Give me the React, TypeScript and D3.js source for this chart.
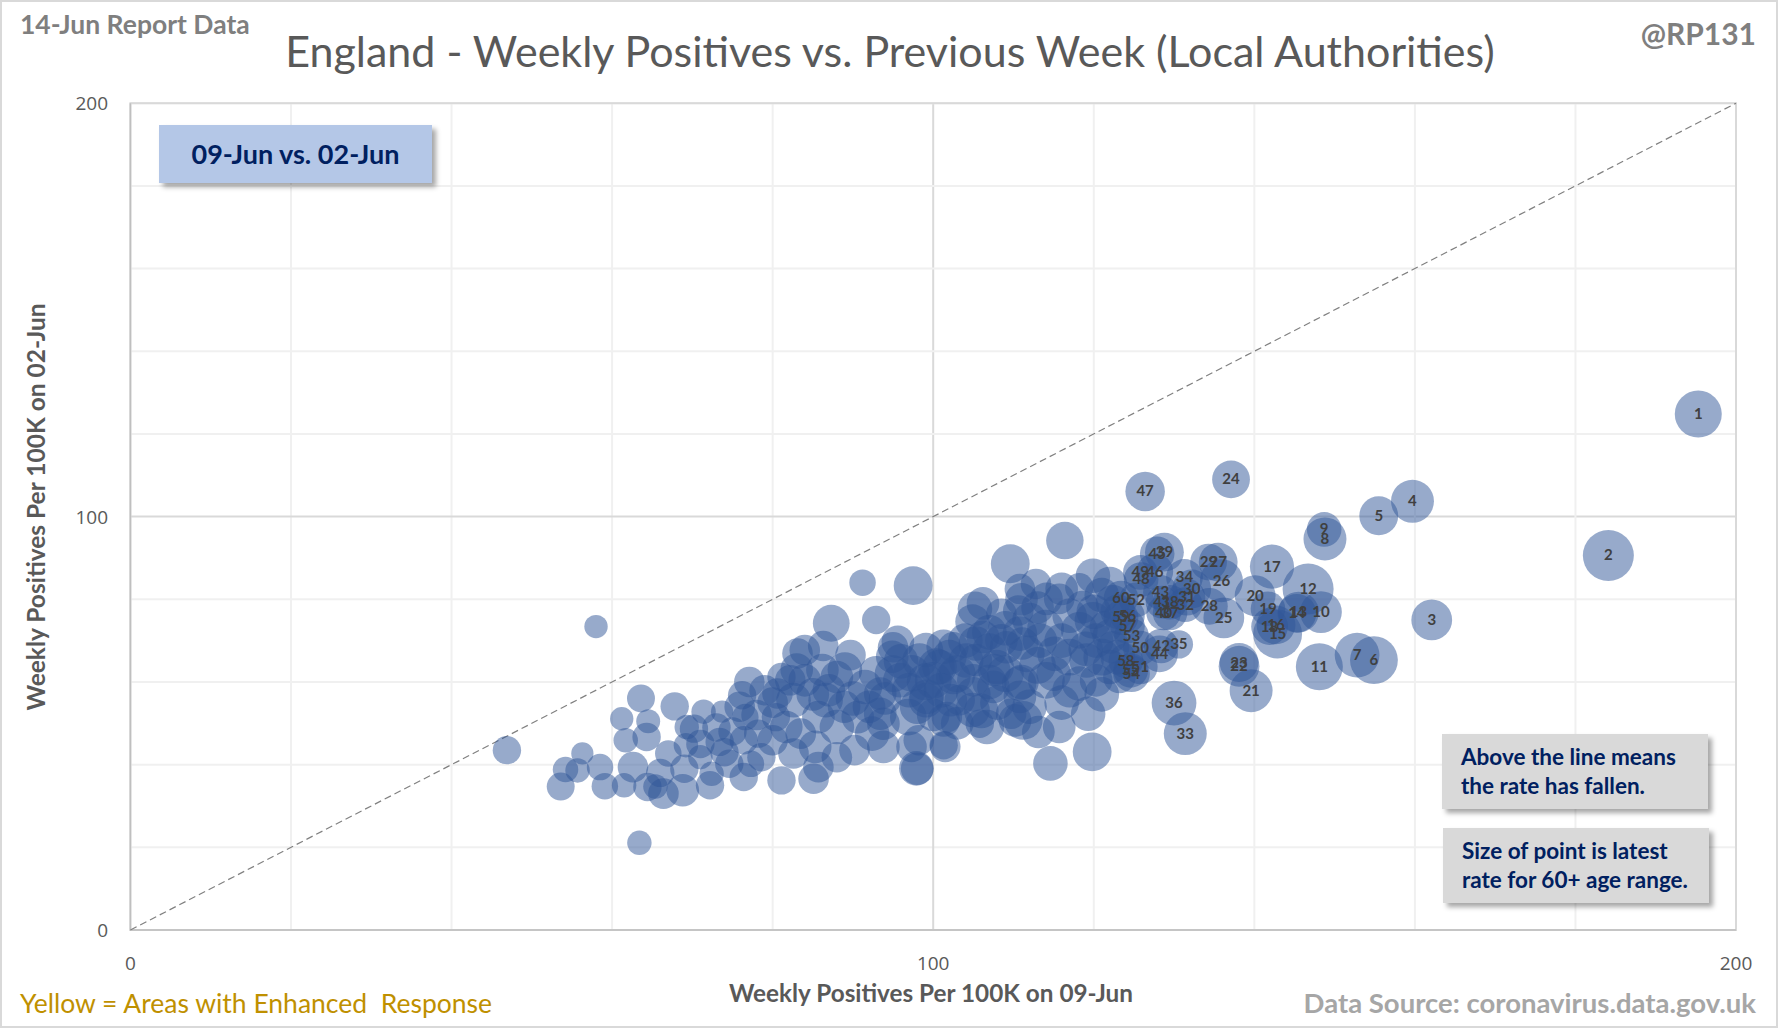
import { useEffect, useRef } from "react";
import * as d3 from "d3";

// top 60 local authorities (labelled by rank on the chart)
const rankedX = [195.3, 184.1, 162.1, 159.7, 155.5, 154.9, 152.8, 148.8, 148.7, 148.3, 148.1, 146.7, 145.5, 145.3, 142.9, 142.7, 142.2, 141.9, 141.7, 140.1, 139.6, 138.1, 138.1, 137.1, 136.2, 135.9, 135.5, 134.4, 134.3, 132.2, 131.6, 131.4, 131.4, 131.3, 130.6, 130.0, 129.5, 129.5, 128.8, 128.7, 128.5, 128.4, 128.3, 128.2, 127.9, 127.6, 126.4, 125.9, 125.8, 125.8, 125.8, 125.3, 124.7, 124.7, 124.6, 124.2, 124.2, 124.0, 123.4, 123.4];
const rankedY = [124.8, 90.6, 75.0, 103.7, 100.2, 65.3, 66.5, 94.6, 96.9, 76.9, 63.7, 82.5, 76.9, 76.6, 71.6, 73.8, 87.9, 73.4, 77.7, 80.9, 57.9, 63.8, 64.7, 109.0, 75.5, 84.5, 89.0, 78.3, 89.0, 82.5, 80.5, 78.7, 47.5, 85.3, 69.1, 54.9, 76.7, 79.3, 91.4, 76.7, 79.3, 68.7, 81.7, 66.8, 91.0, 86.7, 106.1, 84.8, 86.5, 68.2, 63.6, 79.9, 71.2, 62.0, 62.8, 76.0, 73.5, 65.1, 75.6, 80.3];
const rankedSize = [85, 100, 64, 71, 58, 88, 77, 71, 46, 67, 85, 100, 64, 58, 92, 58, 75, 52, 46, 64, 71, 64, 58, 55, 64, 71, 58, 52, 52, 58, 52, 46, 71, 52, 31, 77, 46, 46, 58, 46, 41, 46, 46, 52, 46, 52, 60, 46, 46, 46, 46, 46, 46, 52, 46, 46, 46, 46, 46, 46];

// remaining local authorities (unlabelled)
const otherX = [58.0, 91.2, 97.5, 87.3, 92.9, 46.9, 63.4, 63.6, 67.8, 61.2, 64.5, 61.7, 64.3, 56.3, 54.2, 53.6, 58.5, 55.7, 59.1, 61.5, 62.6, 64.4, 65.4, 66.4, 68.8, 67.0, 69.2, 69.3, 71.4, 70.2, 71.0, 72.2, 72.4, 73.4, 73.7, 75.9, 76.2, 77.1, 76.6, 76.4, 76.4, 77.3, 78.6, 81.1, 81.1, 85.1, 84.0, 86.3, 89.7, 95.6, 98.0, 101.3, 98.2, 104.9, 106.2, 109.6,
  83.1, 94.9, 99.1, 101.3, 100.4, 97.3, 92.9, 91.5, 88.0, 86.2, 84.0, 82.2, 82.6, 86.6, 88.9, 90.6, 92.4, 93.8, 96.9, 99.1, 102.2, 104.9, 106.7, 110.2, 110.7, 107.6, 105.3, 105.3, 108.5, 111.1, 80.0, 81.7, 80.4, 83.5, 85.3, 88.0, 90.2, 93.8, 88.0, 85.7, 78.2, 74.6, 80.6, 82.6, 85.7, 97.3, 101.3,
  116.4, 119.9, 112.8, 110.8, 116.0, 105.2, 108.5, 110.6, 114.1, 115.7, 118.2, 118.6, 119.9, 122.0, 122.4, 121.5, 118.2, 120.3, 122.4, 119.1, 122.0, 123.2, 120.3, 118.2, 115.1, 113.3, 110.8, 111.6, 114.1, 110.8, 111.2, 113.1, 115.7, 119.3, 119.8, 114.6, 109.7, 107.5, 107.9, 106.2, 105.8, 101.5, 97.9, 101.7, 103.3, 99.2, 95.9, 93.4, 95.0, 98.3, 100.8, 100.0, 102.5, 105.0, 104.1, 107.0, 109.1, 102.5, 93.4,
  95.0, 97.0, 99.0, 101.0, 103.0, 105.0, 107.0, 109.0, 111.0, 113.0, 115.0, 117.0, 119.0, 121.0, 116.0, 114.0, 112.0, 109.0, 107.0, 104.0, 102.0, 96.0, 94.0, 92.0, 90.0, 87.0, 85.0, 83.0, 89.0, 98.0, 100.0, 103.0, 106.0, 108.0, 112.0, 116.0, 117.0, 121.0, 122.0, 120.0, 117.0, 113.0, 111.0, 121.0, 123.0, 123.0, 80.0, 78.0, 79.0, 75.0, 73.0, 71.0, 69.0, 66.0, 74.0];
const otherY = [73.4, 84.0, 83.3, 74.2, 75.0, 43.5, 21.1, 56.0, 54.1, 51.1, 50.5, 45.9, 46.7, 42.7, 38.8, 34.7, 39.4, 38.6, 34.8, 35.0, 39.4, 34.6, 34.7, 33.0, 33.8, 42.7, 44.7, 49.1, 52.8, 48.7, 41.8, 35.0, 37.8, 45.5, 52.8, 54.0, 56.8, 60.0, 51.5, 45.9, 37.0, 40.2, 41.8, 36.2, 61.2, 36.6, 67.7, 68.7, 66.5, 69.7, 39.0, 44.7, 45.9, 74.6, 79.0, 88.6,
  66.9, 66.1, 67.7, 68.5, 63.7, 62.1, 62.1, 58.8, 61.2, 62.9, 60.4, 60.4, 55.6, 55.6, 54.0, 51.5, 47.5, 44.3, 51.5, 55.6, 55.6, 53.2, 49.1, 50.7, 59.6, 62.9, 65.3, 69.3, 70.1, 69.3, 45.9, 49.1, 51.5, 47.5, 44.3, 41.8, 43.5, 49.9, 49.1, 51.5, 47.5, 40.2, 57.2, 42.7, 39.4, 44.3, 50.7,
  94.2, 85.7, 83.7, 82.5, 82.5, 77.7, 76.5, 77.3, 80.1, 80.1, 82.9, 78.1, 74.9, 83.7, 79.3, 73.3, 72.5, 70.0, 68.4, 65.2, 63.6, 61.2, 60.4, 59.6, 66.8, 70.0, 71.7, 66.8, 60.4, 56.4, 50.7, 47.9, 49.1, 52.3, 43.1, 40.3, 52.3, 58.8, 63.6, 70.9, 49.9, 44.3, 39.1, 51.5, 55.6, 56.4, 60.4, 52.3, 68.4, 65.2, 63.6, 60.4, 61.2, 60.4, 65.2, 67.6, 68.4, 68.4, 57.2,
  62.0, 58.0, 60.0, 58.0, 62.0, 57.0, 60.0, 62.0, 60.0, 64.0, 62.0, 66.0, 68.0, 66.0, 70.0, 73.0, 75.0, 73.0, 72.0, 70.0, 66.0, 65.0, 56.0, 54.0, 56.0, 58.0, 57.0, 63.0, 63.0, 54.0, 52.0, 50.0, 53.0, 55.0, 54.0, 55.0, 58.0, 57.0, 71.0, 77.0, 76.0, 78.0, 80.0, 81.0, 77.0, 66.0, 55.0, 52.0, 58.0, 48.0, 49.0, 45.0, 39.0, 38.0, 43.0];
const otherSize = [21, 27, 58, 52, 31, 31, 23, 30, 31, 21, 22, 23, 31, 19, 25, 30, 27, 23, 27, 23, 36, 31, 23, 36, 41, 27, 23, 23, 23, 31, 23, 31, 23, 31, 19, 36, 31, 36, 27, 31, 31, 27, 31, 31, 31, 36, 36, 36, 36, 41, 41, 31, 36, 46, 41, 58,
  36, 41, 46, 46, 52, 52, 46, 46, 41, 41, 41, 36, 46, 46, 41, 41, 46, 41, 52, 46, 41, 46, 46, 41, 46, 41, 41, 46, 41, 41, 36, 41, 31, 36, 41, 36, 36, 41, 46, 41, 31, 31, 36, 36, 36, 36, 41,
  54, 46, 36, 36, 41, 46, 36, 36, 41, 36, 31, 41, 52, 46, 46, 41, 52, 46, 41, 46, 46, 41, 41, 46, 46, 46, 46, 52, 52, 41, 58, 41, 41, 46, 58, 46, 36, 41, 46, 41, 31, 36, 46, 36, 36, 46, 46, 41, 36, 46, 46, 52, 46, 41, 46, 46, 41, 36, 41,
  52, 46, 52, 46, 52, 46, 46, 52, 46, 52, 46, 52, 46, 52, 46, 52, 46, 46, 46, 46, 46, 46, 41, 41, 46, 41, 41, 41, 46, 46, 41, 41, 46, 46, 46, 46, 46, 46, 46, 46, 46, 41, 41, 46, 46, 46, 36, 36, 36, 31, 31, 31, 31, 31, 31];

const axisLabels = [0, 100, 200];
const gridValues = [0, 20, 40, 60, 80, 100, 120, 140, 160, 180, 200];

const W = 1778;
const H = 1028;
const FONT = "Lato, 'Open Sans', sans-serif";

const App = () => {
  const svgRef = useRef<SVGSVGElement | null>(null);

  useEffect(() => {
    const svg = d3.select(svgRef.current);
    svg.selectAll("*").remove();

    const x = d3.scaleLinear().domain([0, 200]).range([130.4, 1736]);
    const y = d3.scaleLinear().domain([0, 200]).range([930, 103.2]);
    const r = d3.scaleSqrt().domain([0, 100]).range([0, 25.5]);

    // drop shadow for the note boxes
    const defs = svg.append("defs");
    defs
      .append("filter")
      .attr("id", "shadow")
      .attr("x", "-10%")
      .attr("y", "-20%")
      .attr("width", "130%")
      .attr("height", "160%")
      .append("feDropShadow")
      .attr("dx", 4)
      .attr("dy", 4)
      .attr("stdDeviation", 2.5)
      .attr("flood-color", "#000")
      .attr("flood-opacity", 0.35);

    // background + outer border
    svg
      .append("rect")
      .attr("x", 1)
      .attr("y", 1)
      .attr("width", W - 2)
      .attr("height", H - 2)
      .attr("fill", "#fff")
      .attr("stroke", "#d9d9d9")
      .attr("stroke-width", 2);

    // grid lines
    const grid = svg.append("g");
    gridValues.forEach((v) => {
      const major = v === 100;
      grid
        .append("line")
        .attr("x1", x(v))
        .attr("x2", x(v))
        .attr("y1", y(0))
        .attr("y2", y(200))
        .attr("stroke", major ? "#d9d9d9" : "#f0f0f0")
        .attr("stroke-width", 2);
      grid
        .append("line")
        .attr("x1", x(0))
        .attr("x2", x(200))
        .attr("y1", y(v))
        .attr("y2", y(v))
        .attr("stroke", major ? "#d9d9d9" : "#f0f0f0")
        .attr("stroke-width", 2);
    });

    // plot border
    svg
      .append("rect")
      .attr("x", x(0))
      .attr("y", y(200))
      .attr("width", x(200) - x(0))
      .attr("height", y(0) - y(200))
      .attr("fill", "none")
      .attr("stroke", "#d9d9d9")
      .attr("stroke-width", 2);

    // axis lines
    svg
      .append("path")
      .attr("d", `M${x(0)},${y(200)}V${y(0)}H${x(200)}`)
      .attr("fill", "none")
      .attr("stroke", "#bfbfbf")
      .attr("stroke-width", 1.5);

    // y = x reference line
    svg
      .append("line")
      .attr("x1", x(0))
      .attr("y1", y(0))
      .attr("x2", x(200))
      .attr("y2", y(200))
      .attr("stroke", "#808080")
      .attr("stroke-width", 1.2)
      .attr("stroke-dasharray", "7,4");

    // bubbles
    const others = otherX.map((v, i) => ({ x: v, y: otherY[i], s: otherSize[i] }));
    const ranked = rankedX.map((v, i) => ({ x: v, y: rankedY[i], s: rankedSize[i], rank: i + 1 }));

    const bubbles = svg.append("g");
    bubbles
      .selectAll(".other")
      .data(others)
      .enter()
      .append("circle")
      .attr("cx", (d) => x(d.x))
      .attr("cy", (d) => y(d.y))
      .attr("r", (d) => r(d.s))
      .attr("fill", "#2f5597")
      .attr("fill-opacity", 0.5);

    bubbles
      .selectAll(".ranked")
      .data(ranked)
      .enter()
      .append("circle")
      .attr("cx", (d) => x(d.x))
      .attr("cy", (d) => y(d.y))
      .attr("r", (d) => r(d.s))
      .attr("fill", "#2f5597")
      .attr("fill-opacity", 0.5);

    bubbles
      .selectAll(".lbl")
      .data(ranked)
      .enter()
      .append("text")
      .attr("x", (d) => x(d.x))
      .attr("y", (d) => y(d.y) + 5)
      .attr("text-anchor", "middle")
      .style("font-family", FONT)
      .style("font-weight", "bold")
      .style("font-size", "15px")
      .style("fill", "#404040")
      .text((d) => d.rank);

    // tick labels
    axisLabels.forEach((v) => {
      svg
        .append("text")
        .attr("x", 108)
        .attr("y", y(v) + 7)
        .attr("text-anchor", "end")
        .style("font-family", "'Open Sans', sans-serif")
        .style("font-size", "19px")
        .style("fill", "#595959")
        .text(v);
      svg
        .append("text")
        .attr("x", x(v))
        .attr("y", 970)
        .attr("text-anchor", "middle")
        .style("font-family", "'Open Sans', sans-serif")
        .style("font-size", "19px")
        .style("fill", "#595959")
        .text(v);
    });

    // axis titles
    svg
      .append("text")
      .attr("x", 931)
      .attr("y", 1002)
      .attr("text-anchor", "middle")
      .style("font-family", FONT)
      .style("font-weight", "bold")
      .style("font-size", "24.3px")
      .style("fill", "#595959")
      .text("Weekly Positives Per 100K on 09-Jun");

    svg
      .append("text")
      .attr("transform", "translate(45,507) rotate(-90)")
      .attr("text-anchor", "middle")
      .style("font-family", FONT)
      .style("font-weight", "bold")
      .style("font-size", "24.5px")
      .style("fill", "#595959")
      .text("Weekly Positives Per 100K on 02-Jun");

    // titles and footers
    svg
      .append("text")
      .attr("x", 20)
      .attr("y", 34)
      .style("font-family", FONT)
      .style("font-weight", "bold")
      .style("font-size", "26.5px")
      .style("fill", "#7f7f7f")
      .text("14-Jun Report Data");

    svg
      .append("text")
      .attr("x", 890)
      .attr("y", 67)
      .attr("text-anchor", "middle")
      .style("font-family", FONT)
      .style("font-size", "43px")
      .style("fill", "#595959")
      .text("England - Weekly Positives vs. Previous Week (Local Authorities)");

    svg
      .append("text")
      .attr("x", 1756)
      .attr("y", 45)
      .attr("text-anchor", "end")
      .style("font-family", FONT)
      .style("font-weight", "bold")
      .style("font-size", "30px")
      .style("fill", "#7f7f7f")
      .text("@RP131");

    svg
      .append("text")
      .attr("x", 20)
      .attr("y", 1013)
      .attr("xml:space", "preserve")
      .style("white-space", "pre")
      .style("font-family", FONT)
      .style("font-size", "26.5px")
      .style("fill", "#bf9000")
      .text("Yellow = Areas with Enhanced  Response");

    svg
      .append("text")
      .attr("x", 1756)
      .attr("y", 1013)
      .attr("text-anchor", "end")
      .style("font-family", FONT)
      .style("font-weight", "bold")
      .style("font-size", "27.5px")
      .style("fill", "#a6a6a6")
      .text("Data Source: coronavirus.data.gov.uk");

    // note boxes
    const box = (bx: number, by: number, bw: number, bh: number, fill: string) =>
      svg
        .append("rect")
        .attr("x", bx)
        .attr("y", by)
        .attr("width", bw)
        .attr("height", bh)
        .attr("fill", fill)
        .attr("filter", "url(#shadow)");

    box(159, 125, 273, 58, "#b4c7e7");
    svg
      .append("text")
      .attr("x", 295.5)
      .attr("y", 164)
      .attr("text-anchor", "middle")
      .style("font-family", FONT)
      .style("font-weight", "bold")
      .style("font-size", "27px")
      .style("fill", "#002060")
      .text("09-Jun vs. 02-Jun");

    const noteLines = [
      { bx: 1442, by: 734, lines: ["Above the line means", "the rate has fallen."] },
      { bx: 1443, by: 828, lines: ["Size of point is latest", "rate for 60+ age range."] },
    ];
    noteLines.forEach((n) => {
      box(n.bx, n.by, 266, 75, "#d9d9d9");
      n.lines.forEach((t, i) => {
        svg
          .append("text")
          .attr("x", n.bx + 19)
          .attr("y", n.by + 31 + i * 29)
          .style("font-family", FONT)
          .style("font-weight", "bold")
          .style("font-size", "22.5px")
          .style("fill", "#002060")
          .text(t);
      });
    });
  }, []);

  return (
    <div style={{ position: "absolute", left: 0, top: 0 }}>
      <svg ref={svgRef} width={W} height={H} style={{ display: "block" }}></svg>
    </div>
  );
};

export default App;
